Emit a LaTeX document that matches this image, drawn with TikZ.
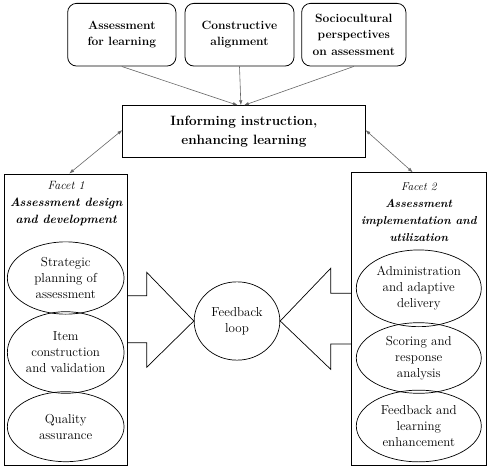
\documentclass[tikz,border=0pt]{standalone}
\usetikzlibrary{shapes.geometric,arrows.meta}
\begin{document}
\begin{tikzpicture}[x=1pt,y=-1pt,
  topbox/.style={draw, rounded corners=9pt, line width=0.8pt, minimum height=62.7pt, align=center, inner sep=1pt, font=\fontsize{12}{16.5}\selectfont\bfseries},
  mainbox/.style={draw, line width=0.8pt, minimum width=242.3pt, minimum height=51.6pt, align=center, font=\fontsize{13.5}{18.5}\selectfont\bfseries},
  facetbox/.style={draw, line width=0.8pt, inner sep=0pt},
  oval/.style={draw, ellipse, line width=0.7pt, inner sep=0pt, align=center, font=\fontsize{13}{16}\selectfont},
  facettxt/.style={align=center, font=\fontsize{12}{17}\selectfont},
  conn/.style={draw=black!60, line width=0.6pt, -{Latex[length=5pt,width=3.5pt]}},
  dconn/.style={draw=black!60, line width=0.6pt, {Latex[length=5pt,width=3.5pt]}-{Latex[length=5pt,width=3.5pt]}},
  bigarrow/.style={draw, line width=0.7pt, line join=miter}
]
\useasboundingbox (0,0) rectangle (488,471);

% top boxes
\node[topbox, minimum width=108.3pt] (t1) at (121.8,34.7) {Assessment\\for learning};
\node[topbox, minimum width=109pt] (t2) at (239.5,34.7) {Constructive\\alignment};
\node[topbox, minimum width=104.3pt] (t3) at (353.8,34.7) {Sociocultural\\perspectives\\on assessment};

% central box
\node[mainbox] (c) at (243.9,131.5) {Informing instruction,\\enhancing learning};

\draw[conn] (t1.south) -- ([xshift=-6pt]c.north);
\draw[conn] (t2.south) -- ([xshift=-3pt]c.north);
\draw[conn] (t3.south) -- ([xshift=0pt]c.north);

% facet boxes
\node[facetbox, minimum width=123pt, minimum height=291pt] (f1) at (66.2,319.5) {};
\node[facetbox, minimum width=135pt, minimum height=292.3pt] (f2) at (418.8,318.9) {};

\draw[dconn] ([yshift=1.5pt]c.west) -- ([xshift=3pt]f1.north);
\draw[dconn] ([yshift=1.5pt]c.east) -- ([xshift=-6pt]f2.north);

% facet titles
\node[facettxt] (h1) at (66.2,203.5) {\itshape Facet 1\\\bfseries\itshape Assessment design\\\bfseries\itshape and development};
\node[facettxt, font=\fontsize{11.5}{17}\selectfont] (h2) at (418.8,212) {\itshape Facet 2\\\bfseries\itshape Assessment\\\bfseries\itshape implementation and\\\bfseries\itshape utilization};

% left ellipses
\node[oval, minimum width=116.7pt, minimum height=72.3pt] (e1) at (65.7,278) {Strategic\\planning of\\assessment};
\node[oval, minimum width=116.7pt, minimum height=81.6pt] (e2) at (65.7,352.5) {Item\\construction\\and validation};
\node[oval, minimum width=116.7pt, minimum height=70pt] (e3) at (65.7,426.7) {Quality\\assurance};

% right ellipses
\node[oval, minimum width=125pt, minimum height=76.7pt] (r1) at (418.8,288.3) {Administration\\and adaptive\\delivery};
\node[oval, minimum width=125pt, minimum height=70.6pt] (r2) at (418.8,358) {Scoring and\\response\\analysis};
\node[oval, minimum width=125pt, minimum height=71.7pt] (r3) at (418.8,426) {Feedback and\\learning\\enhancement};

% feedback loop
\node[oval, minimum width=85.7pt, minimum height=78.3pt] (fb) at (237,321) {Feedback\\loop};

% big arrows
\draw[bigarrow] (f1.east |- 0,295.7) -- (146.7,295.7) -- (146.7,272.3) -- (fb.west) -- (146.7,367.3) -- (146.7,342.7) -- (f1.east |- 0,342.7);
\draw[bigarrow] (f2.west |- 0,293.3) -- (330.7,293.3) -- (330.7,268.3) -- (fb.east) -- (330.7,369.3) -- (330.7,344) -- (f2.west |- 0,344);
\end{tikzpicture}
\end{document}
